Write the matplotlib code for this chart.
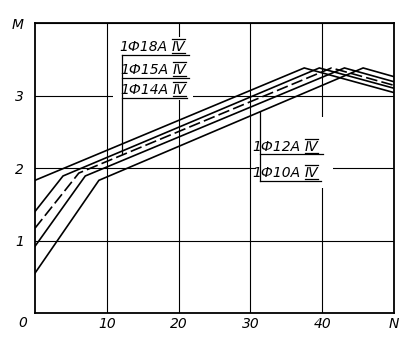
import matplotlib
matplotlib.use('Agg')
import matplotlib.pyplot as plt
from matplotlib.patches import Rectangle

# curves: (N, M) break points
names = ['1Ф18A', '1Ф15A', '1Ф14A', '1Ф12A', '1Ф10A']
curve_n = [
    [0, 37.5, 50],
    [0, 3.9, 39.6, 50],
    [0, 6.1, 41.3, 50],
    [0, 7.0, 43.1, 50],
    [0, 8.9, 45.7, 50],
]
curve_m = [
    [1.83, 3.38, 3.04],
    [1.40, 1.89, 3.38, 3.10],
    [1.17, 1.93, 3.38, 3.14],
    [0.92, 1.89, 3.38, 3.19],
    [0.55, 1.83, 3.38, 3.26],
]
styles = ['-', '-', (0, (7, 2.5)), '-', '-']

x_ticks = [10, 20, 30, 40, 50]
x_labels = ['10', '20', '30', '40', 'N']
y_ticks = [1, 2, 3, 4]
y_labels = ['1', '2', '3', 'M']

font = dict(family='DejaVu Sans', style='italic', fontsize=10)

fig = plt.figure(figsize=(4.1, 3.45), dpi=100)
ax = fig.add_axes([35 / 410, 1 - 313 / 345, 359 / 410, 290 / 345])
ax.set_xlim(0, 50)
ax.set_ylim(0, 4)

ax.set_axisbelow(True)
ax.grid(True, color='black', lw=0.8)
ax.set_xticks(x_ticks)
ax.set_xticklabels(x_labels, **font)
ax.set_yticks(y_ticks)
ax.set_yticklabels(y_labels, **font)
ax.tick_params(length=0, pad=3)
ax.tick_params(axis='y', pad=8)
for s in ax.spines.values():
    s.set_linewidth(1.3)
ax.text(-1.7, -0.14, '0', ha='center', va='center', clip_on=False, **font)

# white patches where the label blocks cut the grid
ax.add_patch(Rectangle((10.9, 2.94), 11.1, 0.87, color='white', lw=0, zorder=1))
ax.add_patch(Rectangle((30.8, 1.72), 10.7, 0.98, color='white', lw=0, zorder=1))

for n, m, ls in zip(curve_n, curve_m, styles):
    ax.plot(n, m, color='black', lw=1.2, ls=ls, zorder=3, solid_joinstyle='miter')

# label blocks with leader lines
lk = dict(color='black', lw=0.9, clip_on=False, zorder=3)
ax.plot([12.1, 21.4], [3.56, 3.56], **lk)
ax.plot([12.1, 21.4], [3.24, 3.24], **lk)
ax.plot([12.1, 21.2], [2.97, 2.97], **lk)
ax.plot([12.1, 12.1], [3.56, 2.20], **lk)
ax.plot([31.3, 40.1], [2.19, 2.19], **lk)
ax.plot([31.3, 39.8], [1.82, 1.82], **lk)
ax.plot([31.3, 31.3], [2.77, 1.82], **lk)

label_pos = [(18.5, 3.62), (18.6, 3.30), (18.6, 3.02), (37.0, 2.24), (37.0, 1.88)]
iv_texts = []
for name, (x0, y0) in zip(names, label_pos):
    ax.text(x0, y0, name, ha='right', va='baseline', zorder=4, **font)
    iv_texts.append(ax.text(x0 + 0.5, y0, 'IV', ha='left', va='baseline', zorder=4, **font))

fig.canvas.draw()
r = fig.canvas.get_renderer()
inv = ax.transData.inverted()
for t in iv_texts:
    bb = t.get_window_extent(r)
    (x1, y1), (x2, y2) = inv.transform([(bb.x0 + 1, bb.y0 + 1), (bb.x1, bb.y1 + 1)])
    ax.plot([x1, x2], [y1, y1], color='black', lw=0.9, clip_on=False, zorder=4)
    ax.plot([x1, x2], [y2, y2], color='black', lw=0.9, clip_on=False, zorder=4)

fig.savefig('out.png', dpi=100)
